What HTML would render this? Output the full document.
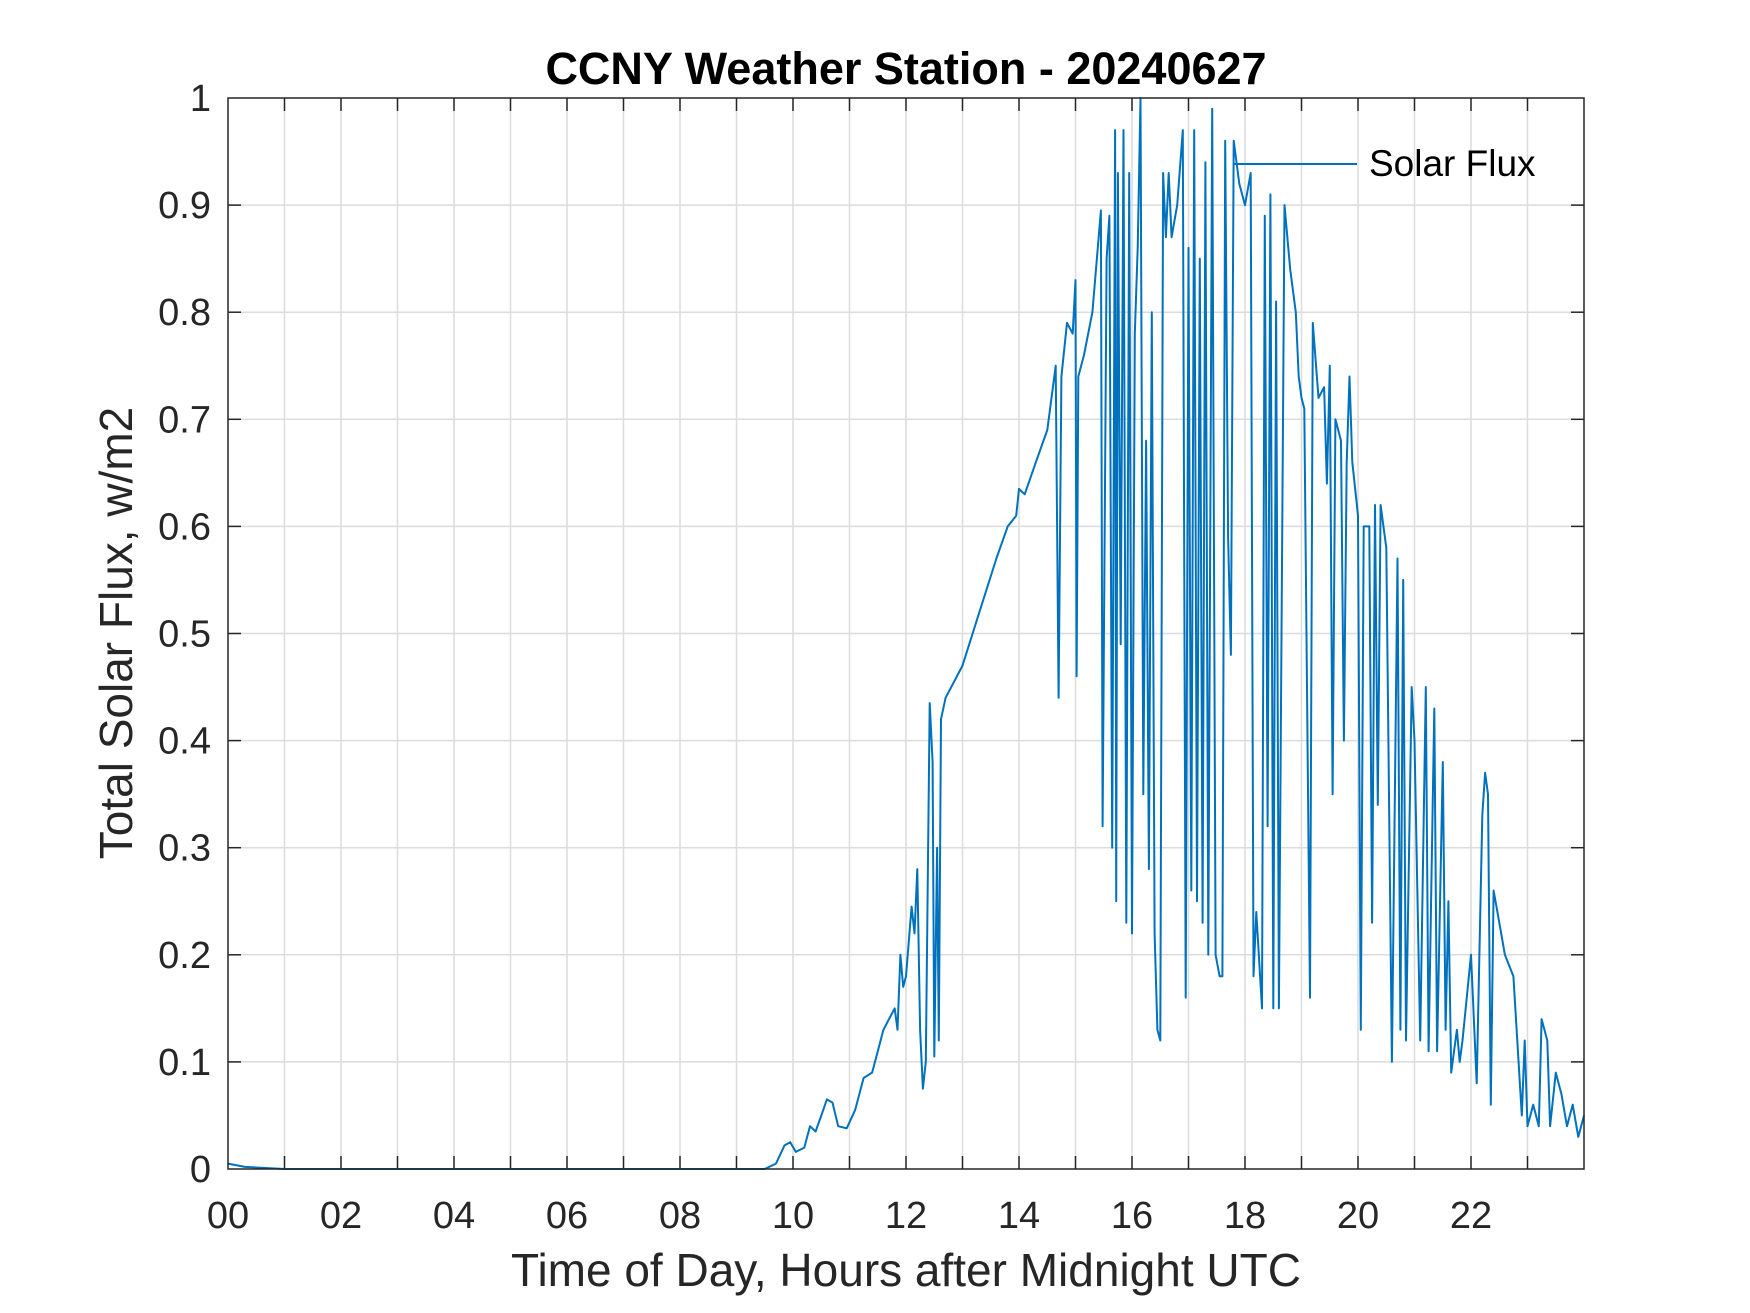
<!DOCTYPE html>
<html><head><meta charset="utf-8"><style>
html,body{margin:0;padding:0;background:#fff;}
svg{display:block;font-family:"Liberation Sans",Arial,sans-serif;}
</style></head><body>
<svg id="chart" width="1750" height="1313" viewBox="0 0 1750 1313">
<rect x="0" y="0" width="1750" height="1313" fill="#fff"/>
<rect x="228" y="98" width="1356" height="1071" fill="#fff"/>
<g id="grid"></g>
<g id="ticks"></g>
<g id="series"></g>
<rect x="228" y="98" width="1356" height="1071" fill="none" stroke="#262626" stroke-width="1.5"/>
<text x="906" y="84" text-anchor="middle" font-size="45" font-weight="bold" fill="#000">CCNY Weather Station - 20240627</text>
<text x="906" y="1286" text-anchor="middle" font-size="46" fill="#262626">Time of Day, Hours after Midnight UTC</text>
<text transform="translate(132,633) rotate(-90)" text-anchor="middle" font-size="46" fill="#262626">Total Solar Flux, w/m2</text>
<g>
<line x1="1234" y1="164" x2="1357" y2="164" stroke="#0072BD" stroke-width="2"/>
<text x="1369" y="176" font-size="37" fill="#000">Solar Flux</text>
</g>
</svg>
<script>
const xTicks=[0,2,4,6,8,10,12,14,16,18,20,22];
const xTickLabels=["00","02","04","06","08","10","12","14","16","18","20","22"];
const yTicks=[0,0.1,0.2,0.3,0.4,0.5,0.6,0.7,0.8,0.9,1];
const yTickLabels=["0","0.1","0.2","0.3","0.4","0.5","0.6","0.7","0.8","0.9","1"];
const hours=[0,0.3,1,5,9.5,9.7,9.85,9.95,10.05,10.2,10.3,10.4,10.5,10.6,10.7,10.8,10.95,11.1,11.25,11.4,11.5,11.6,11.7,11.8,11.85,11.9,11.95,12.0,12.1,12.15,12.2,12.25,12.3,12.35,12.42,12.47,12.5,12.55,12.58,12.62,12.66,12.7,13.0,13.3,13.6,13.8,13.95,14.0,14.1,14.3,14.5,14.65,14.7,14.75,14.85,14.95,15.0,15.02,15.05,15.15,15.3,15.45,15.48,15.55,15.6,15.65,15.7,15.72,15.75,15.8,15.85,15.9,15.95,16.0,16.05,16.1,16.15,16.2,16.25,16.3,16.35,16.4,16.45,16.5,16.55,16.6,16.65,16.7,16.8,16.9,16.95,17.0,17.05,17.1,17.15,17.2,17.25,17.3,17.35,17.42,17.48,17.55,17.6,17.65,17.7,17.75,17.8,17.9,18.0,18.1,18.15,18.2,18.3,18.35,18.4,18.45,18.5,18.55,18.6,18.7,18.8,18.9,18.95,19.0,19.05,19.15,19.2,19.3,19.4,19.45,19.5,19.55,19.6,19.7,19.75,19.8,19.85,19.9,20.0,20.05,20.1,20.2,20.25,20.3,20.35,20.4,20.5,20.6,20.7,20.75,20.8,20.85,20.95,21.0,21.1,21.2,21.25,21.35,21.4,21.5,21.55,21.6,21.65,21.75,21.8,21.85,22.0,22.1,22.2,22.25,22.3,22.35,22.4,22.5,22.6,22.75,22.9,22.95,23.0,23.1,23.2,23.25,23.35,23.4,23.5,23.6,23.7,23.8,23.9,24];
const flux=[0.005,0.002,0,0,0,0.005,0.022,0.025,0.016,0.02,0.04,0.035,0.05,0.065,0.062,0.04,0.038,0.055,0.085,0.09,0.11,0.13,0.14,0.15,0.13,0.20,0.17,0.18,0.245,0.22,0.28,0.13,0.075,0.1,0.435,0.38,0.105,0.30,0.12,0.42,0.43,0.44,0.47,0.52,0.57,0.60,0.61,0.635,0.63,0.66,0.69,0.75,0.44,0.74,0.79,0.78,0.83,0.46,0.74,0.76,0.80,0.895,0.32,0.85,0.89,0.30,0.97,0.25,0.93,0.49,0.97,0.23,0.93,0.22,0.78,0.86,1.0,0.35,0.68,0.28,0.80,0.22,0.13,0.12,0.93,0.87,0.93,0.87,0.90,0.97,0.16,0.86,0.26,0.97,0.25,0.85,0.23,0.94,0.2,0.99,0.2,0.18,0.18,0.96,0.59,0.48,0.96,0.92,0.9,0.93,0.18,0.24,0.15,0.89,0.32,0.91,0.15,0.81,0.15,0.90,0.84,0.80,0.74,0.72,0.71,0.16,0.79,0.72,0.73,0.64,0.75,0.35,0.70,0.68,0.40,0.66,0.74,0.66,0.61,0.13,0.60,0.60,0.23,0.62,0.34,0.62,0.58,0.10,0.57,0.13,0.55,0.12,0.45,0.40,0.12,0.45,0.11,0.43,0.11,0.38,0.13,0.25,0.09,0.13,0.10,0.12,0.20,0.08,0.33,0.37,0.35,0.06,0.26,0.23,0.20,0.18,0.05,0.12,0.04,0.06,0.04,0.14,0.12,0.04,0.09,0.07,0.04,0.06,0.03,0.05];

const L=228,R=1584,T=98,B=1169,XMAX=24;
function xs(h){return L+(R-L)*h/XMAX;}
function ys(v){return B-(B-T)*v;}
const NS="http://www.w3.org/2000/svg";
function mk(tag,attrs,parent){const e=document.createElementNS(NS,tag);for(const k in attrs)e.setAttribute(k,attrs[k]);parent.appendChild(e);return e;}
const grid=document.getElementById('grid'),ticks=document.getElementById('ticks'),series=document.getElementById('series');
for(let h=1;h<XMAX;h++){
  const g=mk('line',{x1:xs(h),y1:T,x2:xs(h),y2:B,stroke:'#dcdcdc','stroke-width':1.5},grid);
  
  
  const t1=mk('line',{x1:xs(h),y1:B,x2:xs(h),y2:B-13,stroke:'#262626','stroke-width':1.5},ticks);
  
  
  const t2=mk('line',{x1:xs(h),y1:T,x2:xs(h),y2:T+13,stroke:'#262626','stroke-width':1.5},ticks);
  
  
}
xTicks.forEach((h,i)=>{
  const t=mk('text',{x:xs(h),y:1228,'text-anchor':'middle','font-size':38,fill:'#262626'},ticks);
  t.textContent=xTickLabels[i];
  
  
});
yTicks.forEach((v,i)=>{
  if(v>0&&v<1){
    const g=mk('line',{x1:L,y1:ys(v),x2:R,y2:ys(v),stroke:'#dcdcdc','stroke-width':1.5},grid);
    
    
    const t1=mk('line',{x1:L,y1:ys(v),x2:L+13,y2:ys(v),stroke:'#262626','stroke-width':1.5},ticks);
    
    
    const t2=mk('line',{x1:R,y1:ys(v),x2:R-13,y2:ys(v),stroke:'#262626','stroke-width':1.5},ticks);
    
    
  }
  const t=mk('text',{x:211,y:ys(v)+13,'text-anchor':'end','font-size':38,fill:'#262626'},ticks);
  t.textContent=yTickLabels[i];
  
  
});
const pts=hours.map((h,i)=>xs(h).toFixed(1)+','+ys(flux[i]).toFixed(1)).join(' ');
const pl=mk('polyline',{points:pts,fill:'none',stroke:'#0072BD','stroke-width':2,'stroke-linejoin':'round'},series);


</script>
</body></html>
